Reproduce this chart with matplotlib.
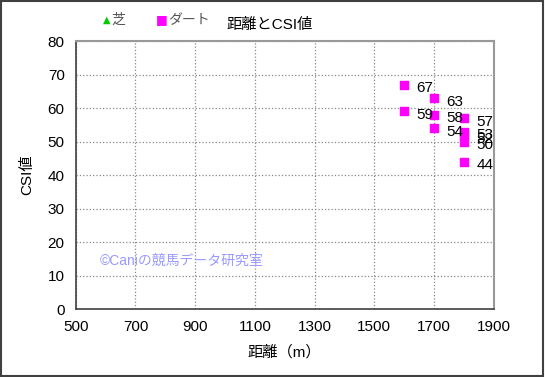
import matplotlib.pyplot as plt
from matplotlib.patches import Rectangle

plt.rcParams['font.family'] = ['Liberation Sans', 'Noto Sans CJK JP', 'DejaVu Sans']

# dirt (ダート) races: distance and CSI value
dirt_dist = [1600, 1600, 1700, 1700, 1700, 1800, 1800, 1800, 1800, 1800]
dirt_csi = [67, 59, 63, 58, 54, 57, 53, 52, 50, 44]
turf_dist = []
turf_csi = []

xticks = list(range(500, 2000, 200))
yticks = list(range(0, 90, 10))

fig = plt.figure(figsize=(5.45, 3.77), dpi=100)
border = Rectangle((0.001, 0.002), 0.996, 0.995, transform=fig.transFigure,
                   fill=False, edgecolor='#404040', linewidth=1.5)
fig.patches.append(border)

ax = fig.add_axes([0.139, 0.180, 0.767, 0.711])
ax.scatter(turf_dist, turf_csi, marker='^', color='#00cc00', s=40, zorder=3)
ax.scatter(dirt_dist, dirt_csi, marker='s', color='#ff00ff', s=38, zorder=3)
for x, y in zip(dirt_dist, dirt_csi):
    ax.annotate(str(y), (x, y), xytext=(9, -5.5), textcoords='offset points', fontsize=11)

ax.set_xlim(500, 1900)
ax.set_ylim(0, 80)
ax.set_xticks(xticks)
ax.set_yticks(yticks)
ax.tick_params(length=0, labelsize=11, pad=8)
ax.grid(True, linestyle=':', color='#888888', linewidth=0.9)
ax.set_axisbelow(True)
for s in ['left', 'bottom']:
    ax.spines[s].set_color('#404040')
    ax.spines[s].set_linewidth(1.2)
for s in ['top', 'right']:
    ax.spines[s].set_color('#999999')
    ax.spines[s].set_linewidth(1.5)
ax.set_xlabel('距離（m）', fontsize=11, labelpad=8)
ax.set_ylabel('CSI値', fontsize=11, labelpad=10)

ax.text(580, 14.5, '©Caniの競馬データ研究室', color='#9999ff', fontsize=10, va='center')

fig.text(0.495, 0.935, '距離とCSI値', fontsize=11, ha='center', va='center')
fig.text(0.195, 0.947, '▲', color='#00cc00', fontsize=7, ha='center', va='center', family=['DejaVu Sans'])
fig.text(0.205, 0.947, '芝', color='#555555', fontsize=10, va='center')
fig.text(0.297, 0.947, '■', color='#ff00ff', fontsize=9, ha='center', va='center', family=['DejaVu Sans'])
fig.text(0.308, 0.947, 'ダート', color='#555555', fontsize=10, va='center')

fig.savefig('out.png', dpi=100)
